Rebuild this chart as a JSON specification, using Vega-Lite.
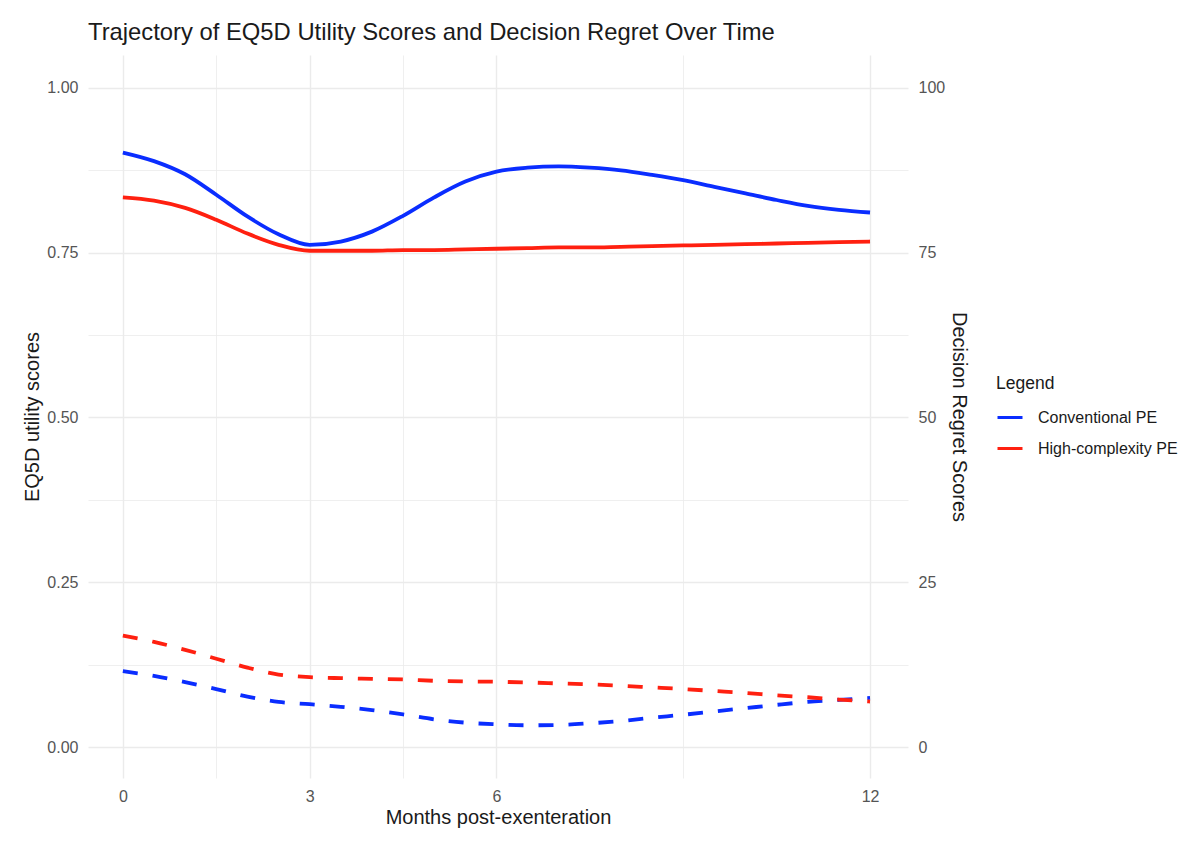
{
  "$schema": "https://vega.github.io/schema/vega-lite/v6.json",
  "width": 820,
  "height": 723,
  "autosize": {"type": "none"},
  "padding": {"left": 88, "top": 55, "right": 292, "bottom": 68},
  "background": "white",
  "title": {
    "text": "Trajectory of EQ5D Utility Scores and Decision Regret Over Time",
    "anchor": "start",
    "frame": "group",
    "font": "Liberation Sans",
    "fontSize": 23.8,
    "fontWeight": "normal",
    "color": "#1a1a1a",
    "offset": 10
  },
  "config": {
    "view": {"stroke": null},
    "axis": {
      "domain": false,
      "ticks": false,
      "labelFont": "Liberation Sans",
      "titleFont": "Liberation Sans",
      "labelFontSize": 16,
      "labelColor": "#555555",
      "titleFontSize": 20,
      "titleFontWeight": "normal",
      "titleColor": "#1a1a1a",
      "gridColor": "#ebebeb"
    },
    "legend": {
      "labelFont": "Liberation Sans",
      "titleFont": "Liberation Sans"
    }
  },
  "data": {
    "values": [
      {"Month": 0, "Group": "Conventional PE", "EQ5D": 0.902, "Regret": 11.5},
      {"Month": 0.5, "Group": "Conventional PE", "EQ5D": 0.889, "Regret": 10.8},
      {"Month": 1, "Group": "Conventional PE", "EQ5D": 0.869, "Regret": 9.85},
      {"Month": 1.5, "Group": "Conventional PE", "EQ5D": 0.838, "Regret": 8.8},
      {"Month": 2, "Group": "Conventional PE", "EQ5D": 0.805, "Regret": 7.65},
      {"Month": 2.5, "Group": "Conventional PE", "EQ5D": 0.778, "Regret": 6.85},
      {"Month": 3, "Group": "Conventional PE", "EQ5D": 0.762, "Regret": 6.5},
      {"Month": 3.5, "Group": "Conventional PE", "EQ5D": 0.767, "Regret": 6.1},
      {"Month": 4, "Group": "Conventional PE", "EQ5D": 0.782, "Regret": 5.6},
      {"Month": 4.5, "Group": "Conventional PE", "EQ5D": 0.806, "Regret": 4.95},
      {"Month": 5, "Group": "Conventional PE", "EQ5D": 0.834, "Regret": 4.2},
      {"Month": 5.5, "Group": "Conventional PE", "EQ5D": 0.858, "Regret": 3.7},
      {"Month": 6, "Group": "Conventional PE", "EQ5D": 0.873, "Regret": 3.45},
      {"Month": 6.5, "Group": "Conventional PE", "EQ5D": 0.879, "Regret": 3.3},
      {"Month": 7, "Group": "Conventional PE", "EQ5D": 0.881, "Regret": 3.35},
      {"Month": 7.5, "Group": "Conventional PE", "EQ5D": 0.879, "Regret": 3.6},
      {"Month": 8, "Group": "Conventional PE", "EQ5D": 0.875, "Regret": 3.95},
      {"Month": 8.5, "Group": "Conventional PE", "EQ5D": 0.868, "Regret": 4.45},
      {"Month": 9, "Group": "Conventional PE", "EQ5D": 0.86, "Regret": 4.9},
      {"Month": 9.5, "Group": "Conventional PE", "EQ5D": 0.85, "Regret": 5.4},
      {"Month": 10, "Group": "Conventional PE", "EQ5D": 0.84, "Regret": 5.9},
      {"Month": 10.5, "Group": "Conventional PE", "EQ5D": 0.83, "Regret": 6.4},
      {"Month": 11, "Group": "Conventional PE", "EQ5D": 0.821, "Regret": 6.85},
      {"Month": 11.5, "Group": "Conventional PE", "EQ5D": 0.815, "Regret": 7.15},
      {"Month": 12, "Group": "Conventional PE", "EQ5D": 0.811, "Regret": 7.45},
      {"Month": 0, "Group": "High-complexity PE", "EQ5D": 0.834, "Regret": 16.9},
      {"Month": 0.5, "Group": "High-complexity PE", "EQ5D": 0.829, "Regret": 15.95},
      {"Month": 1, "Group": "High-complexity PE", "EQ5D": 0.818, "Regret": 14.75},
      {"Month": 1.5, "Group": "High-complexity PE", "EQ5D": 0.8, "Regret": 13.4},
      {"Month": 2, "Group": "High-complexity PE", "EQ5D": 0.779, "Regret": 12.05},
      {"Month": 2.5, "Group": "High-complexity PE", "EQ5D": 0.762, "Regret": 11.0},
      {"Month": 3, "Group": "High-complexity PE", "EQ5D": 0.753, "Regret": 10.6},
      {"Month": 3.5, "Group": "High-complexity PE", "EQ5D": 0.753, "Regret": 10.45},
      {"Month": 4, "Group": "High-complexity PE", "EQ5D": 0.753, "Regret": 10.35},
      {"Month": 4.5, "Group": "High-complexity PE", "EQ5D": 0.754, "Regret": 10.25},
      {"Month": 5, "Group": "High-complexity PE", "EQ5D": 0.754, "Regret": 10.05},
      {"Month": 5.5, "Group": "High-complexity PE", "EQ5D": 0.755, "Regret": 9.95},
      {"Month": 6, "Group": "High-complexity PE", "EQ5D": 0.756, "Regret": 9.9},
      {"Month": 6.5, "Group": "High-complexity PE", "EQ5D": 0.757, "Regret": 9.8},
      {"Month": 7, "Group": "High-complexity PE", "EQ5D": 0.758, "Regret": 9.65},
      {"Month": 7.5, "Group": "High-complexity PE", "EQ5D": 0.758, "Regret": 9.5},
      {"Month": 8, "Group": "High-complexity PE", "EQ5D": 0.759, "Regret": 9.3},
      {"Month": 8.5, "Group": "High-complexity PE", "EQ5D": 0.76, "Regret": 9.05},
      {"Month": 9, "Group": "High-complexity PE", "EQ5D": 0.761, "Regret": 8.8},
      {"Month": 9.5, "Group": "High-complexity PE", "EQ5D": 0.762, "Regret": 8.5},
      {"Month": 10, "Group": "High-complexity PE", "EQ5D": 0.763, "Regret": 8.2},
      {"Month": 10.5, "Group": "High-complexity PE", "EQ5D": 0.764, "Regret": 7.85},
      {"Month": 11, "Group": "High-complexity PE", "EQ5D": 0.765, "Regret": 7.55},
      {"Month": 11.5, "Group": "High-complexity PE", "EQ5D": 0.766, "Regret": 7.2},
      {"Month": 12, "Group": "High-complexity PE", "EQ5D": 0.767, "Regret": 6.9}
    ]
  },
  "encoding": {
    "x": {
      "field": "Month",
      "type": "quantitative",
      "title": "Months post-exenteration",
      "scale": {"domain": [-0.56, 12.61], "nice": false, "zero": false},
      "axis": {
        "values": [0, 1.5, 3, 4.5, 6, 9, 12],
        "labelExpr": "datum.value == 1.5 || datum.value == 4.5 || datum.value == 9 ? '' : datum.label",
        "labelPadding": 10,
        "titlePadding": 3,
        "gridWidth": {"condition": {"test": "datum.value == 1.5 || datum.value == 4.5 || datum.value == 9", "value": 0.8}, "value": 1.4}
      }
    },
    "color": {
      "field": "Group",
      "type": "nominal",
      "scale": {
        "domain": ["Conventional PE", "High-complexity PE"],
        "range": ["#0a2dff", "#ff2010"]
      },
      "legend": {
        "title": "Legend",
        "orient": "none",
        "legendX": 908,
        "legendY": 320,
        "titleFontSize": 17.5,
        "titleFontWeight": "normal",
        "titleColor": "#1a1a1a",
        "titlePadding": 11,
        "labelFontSize": 16,
        "labelColor": "#1a1a1a",
        "labelOffset": 14,
        "symbolType": "stroke",
        "symbolSize": 625,
        "symbolStrokeWidth": 3,
        "symbolDash": [],
        "rowPadding": 9
      }
    }
  },
  "layer": [
    {
      "mark": {"type": "line", "interpolate": "monotone", "strokeWidth": 3.8},
      "encoding": {
        "y": {
          "field": "EQ5D",
          "type": "quantitative",
          "title": "EQ5D utility scores",
          "scale": {"domain": [-0.047, 1.05], "nice": false, "zero": false},
          "axis": {
            "values": [0, 0.125, 0.25, 0.375, 0.5, 0.625, 0.75, 0.875, 1],
            "format": ".2f",
            "labelExpr": "(datum.value * 8) % 2 == 1 ? '' : datum.label",
            "labelPadding": 10,
            "titlePadding": 4,
            "gridWidth": {"condition": {"test": "(datum.value * 8) % 2 == 1", "value": 0.8}, "value": 1.4}
          }
        }
      }
    },
    {
      "mark": {"type": "line", "interpolate": "monotone", "strokeWidth": 3.8, "strokeDash": [15, 15]},
      "encoding": {
        "y": {
          "field": "Regret",
          "type": "quantitative",
          "title": "Decision Regret Scores",
          "scale": {"domain": [-4.7, 105], "nice": false, "zero": false},
          "axis": {
            "orient": "right",
            "values": [0, 25, 50, 75, 100],
            "grid": false,
            "labelPadding": 10,
            "titlePadding": 4
          }
        }
      }
    }
  ],
  "resolve": {"scale": {"y": "independent"}}
}
